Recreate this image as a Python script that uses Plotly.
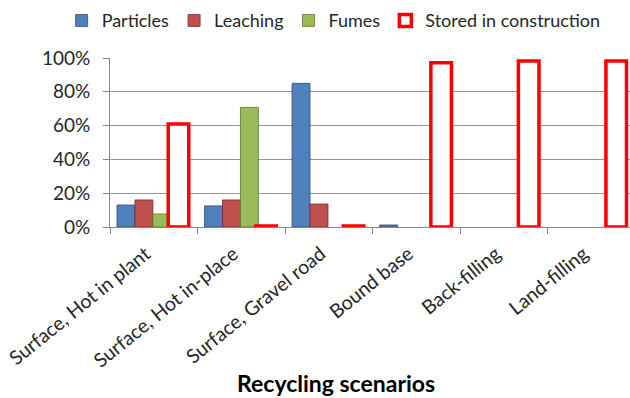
import plotly.graph_objects as go

categories = ["Surface, Hot in plant", "Surface, Hot in-place", "Surface, Gravel road",
              "Bound base", "Back-filling", "Land-filling"]
particles = [0.13, 0.125, 0.85, 0.012, None, None]
leaching = [0.16, 0.16, 0.136, None, None, None]
fumes = [0.077, 0.708, None, None, None, None]
stored = [0.61, 0.006, 0.006, 0.972, 0.982, 0.982]

FONT = "Lato"
fig = go.Figure()
series = [
    ("Particles", particles, "#4F81BD", "#2C4D75", -0.42),
    ("Leaching", leaching, "#C0504D", "#772C2A", -0.215),
    ("Fumes", fumes, "#9BBB59", "#5F7530", -0.01),
]
for name, vals, col, edge, off in series:
    fig.add_trace(go.Bar(
        x=categories, y=vals, name=name, offset=off, width=0.205,
        marker=dict(color=col, line=dict(color=edge, width=0.8)),
    ))
fig.add_trace(go.Bar(
    x=categories, y=stored, name="Stored in construction", offset=0.165, width=0.235,
    marker=dict(color="white", line=dict(color="#FF0000", width=3.5)),
))

fig.update_layout(
    width=630, height=398,
    margin=dict(l=110, r=0, t=58, b=171),
    paper_bgcolor="white", plot_bgcolor="white",
    barmode="overlay",
    font=dict(family=FONT, size=19, color="#262626"),
    showlegend=True,
    legend=dict(orientation="h", x=-0.093, xanchor="left", y=1.33, yanchor="top",
                font=dict(size=18, color="#262626"), itemclick=False, traceorder="normal",
                bgcolor="rgba(0,0,0,0)"),
    xaxis=dict(type="category", range=[-0.5, 5.44], tickangle=-39,
               showline=True, linecolor="#868686", linewidth=1,
               ticks="outside", tickson="boundaries", ticklen=6, tickcolor="#868686",
               ticklabelstandoff=7, ticklabelshift=-8,
               showgrid=False, tickfont=dict(size=19.5, color="#262626")),
    yaxis=dict(range=[0, 1.0], dtick=0.2, tickformat=".0%",
               showline=True, linecolor="#868686", linewidth=1,
               ticks="outside", ticklen=6, tickcolor="#868686",
               ticklabelstandoff=9,
               showgrid=True, gridcolor="#969696", gridwidth=1,
               tickfont=dict(size=19, color="#262626"), zeroline=False),
    annotations=[dict(text="<b>Recycling scenarios</b>", xref="paper", yref="paper",
                      x=(336 - 110) / 520, y=-(383 - 227) / 169, xanchor="center", yanchor="middle",
                      showarrow=False, font=dict(size=23, color="#000000", family=FONT))],
)
fig.write_html("out.html")
